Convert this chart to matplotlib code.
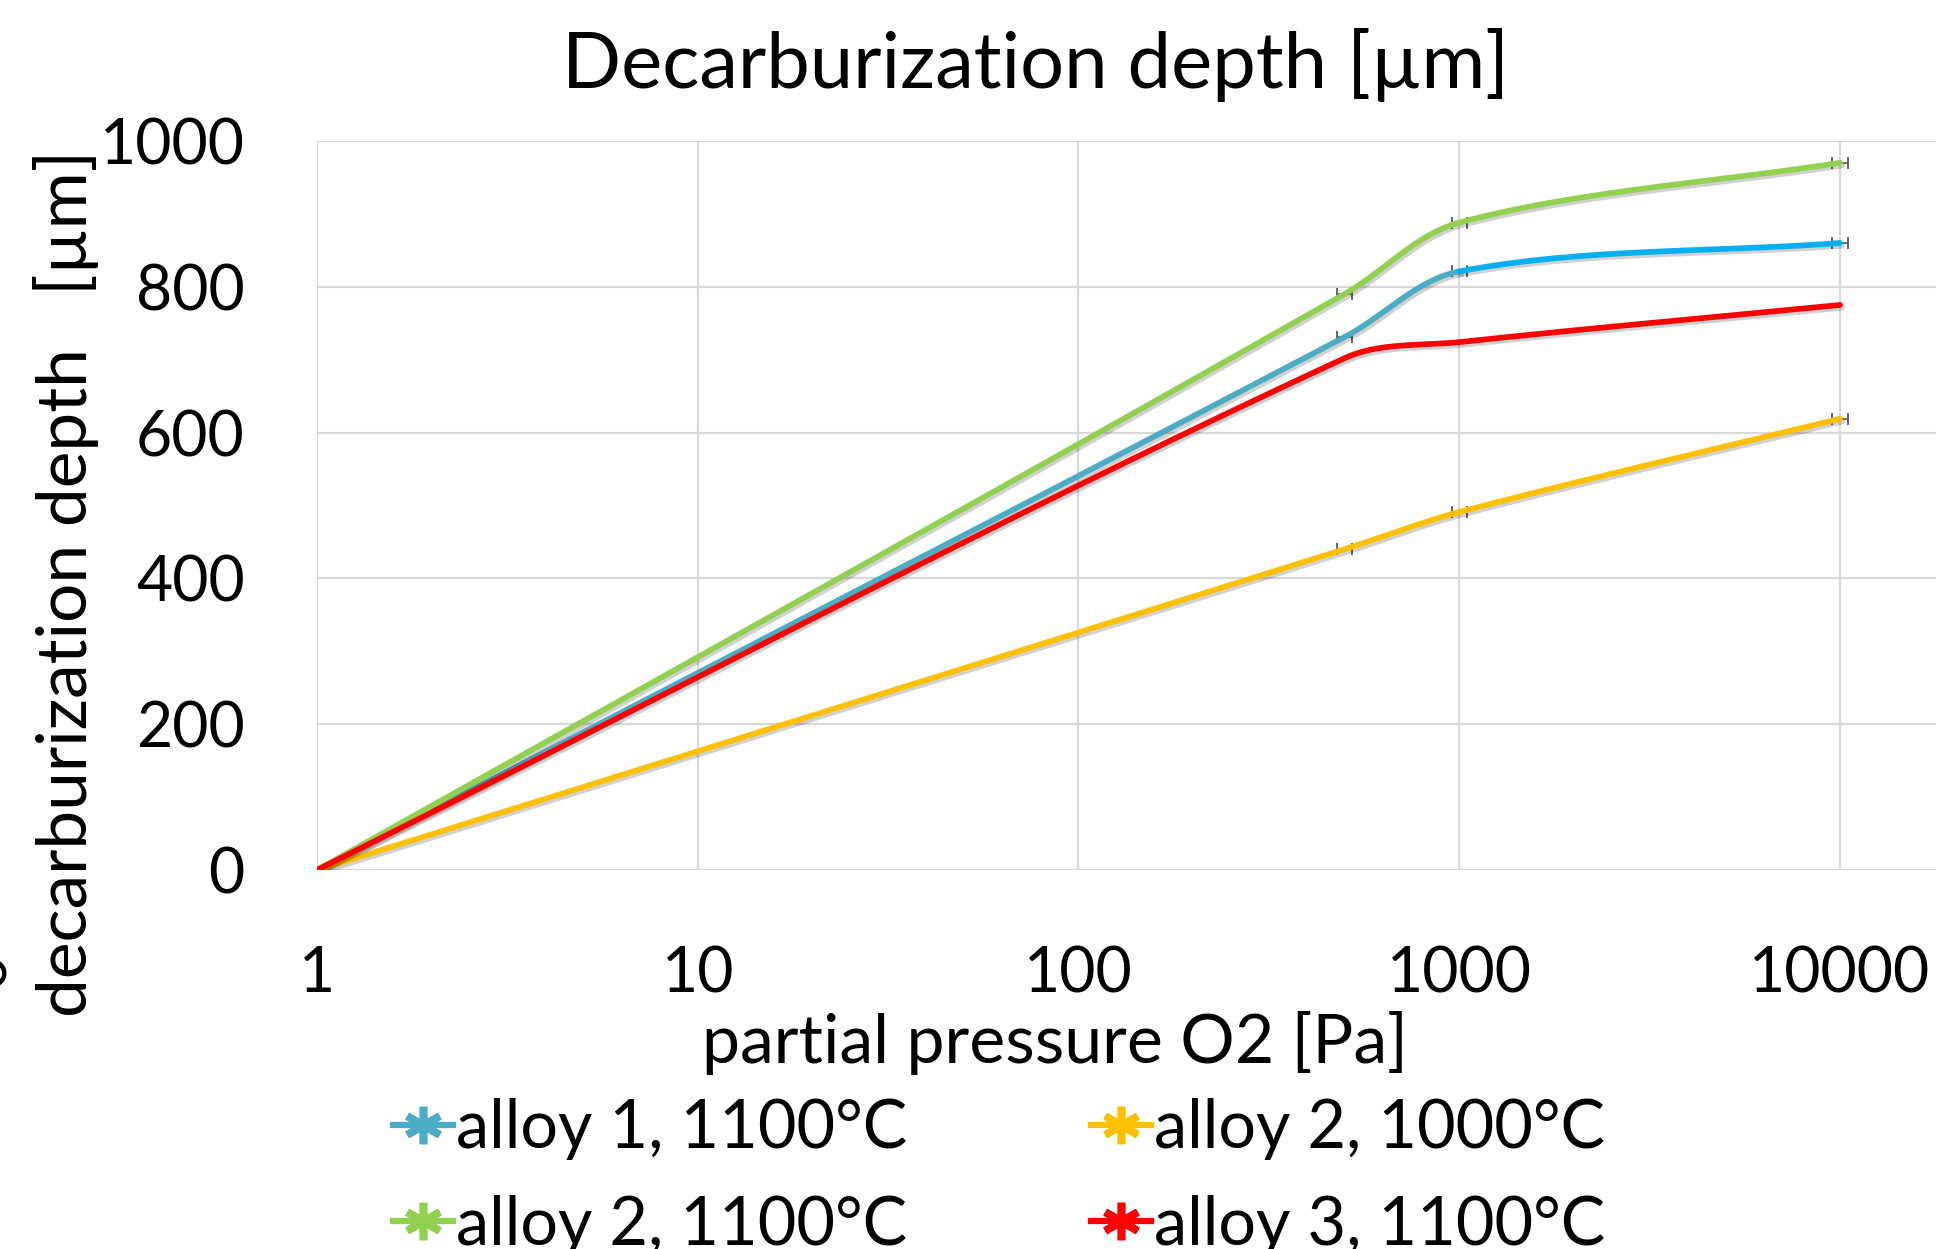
import numpy as np
import matplotlib
matplotlib.use("Agg")
import matplotlib.pyplot as plt
import matplotlib.patheffects as pe
from matplotlib.lines import Line2D

plt.rcParams['font.family'] = ['Lato', 'DejaVu Sans']

# data
pressure = [1, 500, 1000, 10000]
alloy1_1100 = [0, 731, 821, 860]
alloy2_1000 = [0, 440, 491, 619]
alloy2_1100 = [0, 790, 888, 970]
alloy3_1100 = [0, 702, 724, 775]

labels = ["alloy 1, 1100°C", "alloy 2, 1000°C", "alloy 2, 1100°C", "alloy 3, 1100°C"]
colors = ["#4BACC6", "#FFC000", "#92D050", "#FF0000"]


def smooth(xs, ys, n=80, sx=381.0, sy=0.729):
    # excel-like smoothed line: bezier through the points, worked out in
    # screen space (sx px per decade, sy px per unit), handles scaled by segment length
    P = np.column_stack([np.log10(np.asarray(xs, float)) * sx, np.asarray(ys, float) * sy])
    m = len(P)
    out = []
    t = np.linspace(0, 1, n)[:, None]
    for i in range(m - 1):
        p0 = P[max(i - 1, 0)]
        p1, p2 = P[i], P[i + 1]
        p3 = P[min(i + 2, m - 1)]
        d01 = np.hypot(*(p1 - p0))
        d12 = np.hypot(*(p2 - p1))
        d23 = np.hypot(*(p3 - p2))
        c1 = p1 + (p2 - p0) * d12 / (d01 + d12) / 3
        c2 = p2 - (p3 - p1) * d12 / (d12 + d23) / 3
        b = (1-t)**3*p1 + 3*(1-t)**2*t*c1 + 3*(1-t)*t**2*c2 + t**3*p2
        out.append(b)
    out = np.vstack(out)
    return 10**(out[:, 0] / sx), out[:, 1] / sy


fig = plt.figure(figsize=(19.36, 12.49), dpi=100)
ax = fig.add_axes([0.1637, 0.3034, 1 - 0.1637, 0.5838])

shadow = [pe.SimpleLineShadow(offset=(1.5, -2), alpha=0.18, shadow_color='k'), pe.Normal()]
lw = 4.1

# small x error bars (none on alloy 3)
for ys in [alloy1_1100, alloy2_1000, alloy2_1100]:
    px = np.array(pressure[1:], float)
    ax.errorbar(px, ys[1:], xerr=[px - px / 1.047, px * 1.047 - px], fmt='none',
                ecolor='#595959', elinewidth=1.2, capsize=4.5, capthick=1.3, zorder=2)

# alloy 1 - drawn in two shades like the original
sx, sy = smooth(pressure, alloy1_1100)
k = np.searchsorted(sx, 1000)
ax.plot(sx[:k + 1], sy[:k + 1], color="#4BACC6", lw=lw, path_effects=shadow, solid_capstyle='round', zorder=3)
ax.plot(sx[k:], sy[k:], color="#00B0F0", lw=lw, path_effects=shadow, solid_capstyle='round', zorder=3)

for ys, c in [(alloy2_1000, colors[1]), (alloy2_1100, colors[2]), (alloy3_1100, colors[3])]:
    sx, sy = smooth(pressure, ys)
    ax.plot(sx, sy, color=c, lw=lw, path_effects=shadow, solid_capstyle='round', zorder=3)

ax.set_xscale('log')
ax.set_xlim(1, 10**4.252)
ax.set_ylim(0, 1000)
ax.set_yticks([0, 200, 400, 600, 800, 1000])
ax.set_xticks([1, 10, 100, 1000, 10000])
ax.set_xticklabels(["1", "10", "100", "1000", "10000"])
ax.xaxis.set_minor_locator(matplotlib.ticker.NullLocator())
ax.grid(True, color='#D9D9D9', lw=1.6)
ax.set_axisbelow(True)
for s in ax.spines.values():
    s.set_visible(False)
ax.tick_params(axis='both', length=0, labelsize=45)
ax.tick_params(axis='y', pad=52)
ax.tick_params(axis='x', pad=54)

fig.text(0.535, 0.948, "Decarburization depth [µm]", ha='center', va='center', fontsize=56)
fig.text(0.545, 0.165, "partial pressure O2 [Pa]", ha='center', va='center', fontsize=49)
fig.text(0.034, 0.533, "decarburization depth   [µm]", ha='center', va='center',
         fontsize=50, rotation=90)
fig.text(-0.021, 0.222, "0", ha='left', va='center', fontsize=44, rotation=90)

star = (6, 2, 0)
handles = [Line2D([], [], color=c, lw=4.5, marker=star, markersize=27, markeredgewidth=5.5,
                  markeredgecolor=c) for c in colors]
order = [0, 2, 1, 3]
fig.legend([handles[i] for i in order], [labels[i] for i in order], ncol=2,
           loc='upper left', bbox_to_anchor=(0.203, 0.121), frameon=False,
           fontsize=48, handlelength=0.9, handletextpad=0.05, columnspacing=2.75,
           labelspacing=0.52, borderaxespad=0, borderpad=0)

fig.savefig("out.png", dpi=100)
